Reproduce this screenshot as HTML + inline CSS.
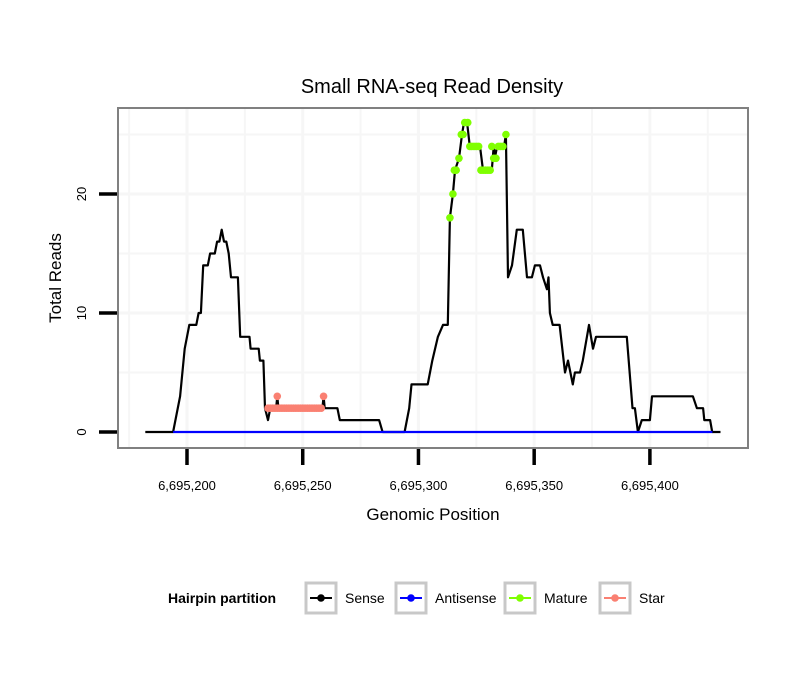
<!DOCTYPE html>
<html><head><meta charset="utf-8"><style>
html,body{margin:0;padding:0;background:#fff;}
svg{display:block;font-family:"Liberation Sans",sans-serif;}
</style></head><body>
<svg id="chart" width="810" height="690" viewBox="0 0 810 690" xmlns="http://www.w3.org/2000/svg">
<rect width="810" height="690" fill="#fff"/>
<text x="432" y="93" font-size="20" text-anchor="middle">Small RNA-seq Read Density</text>
<g id="plot"></g>
<text x="433" y="520" font-size="17" text-anchor="middle">Genomic Position</text>
<text transform="translate(61,278) rotate(-90)" font-size="17" text-anchor="middle">Total Reads</text>
<g id="legend">
<text x="168" y="603" font-size="14" font-weight="bold">Hairpin partition</text>
</g>
</svg>
<script>
const senseOff=[-18,-6,-3,-1,1,4,5,6,7,9,10,12,13,14,15,16,17,18,19,22,23,27,27.5,31,31.5,33,33.7,35,36,38.5,39,39.5,58.5,59,59.5,65,66,83,84.5,94,96,97,104,106,108.4,110.6,112.7,113.6,114.9,115.8,117.5,118.8,119.7,121,122.2,126.6,127.9,131.7,132.5,133,134,137,137.8,138.7,140.4,142.5,145.1,146.9,149,150.3,152.5,153.8,155.5,156.2,156.8,158,161,163.3,164.6,166.7,167.6,169.8,171,173.7,175.4,176.7,190,192.5,193.5,194.8,196.5,200,200.9,218.6,220.3,223,223.5,226,226.9,230.5];
const senseVal=[0,0,3,7,9,9,10,10,14,14,15,15,16,16,17,16,16,15,13,13,8,8,7,7,6,6,2,1,2,2,3,2,2,3,2,2,1,1,0,0,2,4,4,6,8,9,9,18,20,22,23,25,26,26,24,24,22,22,24,23,24,24,25,13,14,17,17,13,13,14,14,13,12,13,10,9,9,5,6,4,5,5,6,9,7,8,8,2,2,0,1,1,3,3,2,2,1,1,0,0];
const senseBase=6695200;
const antiPos=[6695194,6695427];
const antiVal=[0,0];
const maturePos=[6695313.6,6695314.9,6695315.5,6695316.3,6695317.5,6695318.5,6695319.3,6695320,6695321.3,6695322.2,6695323,6695324,6695325,6695326,6695327,6695328,6695329,6695330,6695331,6695331.7,6695332.5,6695333.5,6695334.5,6695335.5,6695336.5,6695337.8];
const matureVal=[18,20,22,22,23,25,25,26,26,24,24,24,24,24,22,22,22,22,22,24,23,23,24,24,24,25];
const starPos=[6695235,6695236,6695237,6695238,6695239,6695240,6695241,6695242,6695243,6695244,6695245,6695246,6695247,6695248,6695249,6695250,6695251,6695252,6695253,6695254,6695255,6695256,6695257,6695258];
const starVal=[2,2,2,2,2,2,2,2,2,2,2,2,2,2,2,2,2,2,2,2,2,2,2,2];
const starPeakPos=[6695239,6695259];
const starPeakVal=[3,3];
const xTicks=[6695200,6695250,6695300,6695350,6695400];
const xTickLabels=["6,695,200","6,695,250","6,695,300","6,695,350","6,695,400"];
const yTicks=[0,10,20];
const yTickLabels=["0","10","20"];
const legendLabels=["Sense","Antisense","Mature","Star"];
const legendColors=["#000000","#0000ff","#7fff00","#fa8072"];

const NS="http://www.w3.org/2000/svg";
function X(p){return 187+(p-6695200)*2.3145;}
function Y(v){return 432-v*11.9;}
function mk(tag,attrs,parent){const e=document.createElementNS(NS,tag);for(const k in attrs)e.setAttribute(k,attrs[k]);parent.appendChild(e);return e;}
const sensePos=senseOff.map(o=>senseBase+o);
const plot=document.getElementById('plot');
mk('rect',{x:118,y:108,width:630,height:340,fill:'#fff'},plot);
for(let p=6695175;p<=6695425;p+=25){const g=mk('line',{x1:X(p),x2:X(p),y1:109,y2:447,stroke:'#f6f6f6','stroke-width':p%50===0?3:2},plot);

}
for(let v=5;v<=25;v+=5){const g=mk('line',{x1:119,x2:747,y1:Y(v),y2:Y(v),stroke:'#f6f6f6','stroke-width':v%10===0?3:2},plot);

}
function line(ps,vs,color,name){const d=ps.map((p,i)=>(i?'L':'M')+X(p).toFixed(1)+','+Y(vs[i]).toFixed(1)).join('');
const e=mk('path',{d:d,fill:'none',stroke:color,'stroke-width':2.2,'stroke-linejoin':'round'},plot);

}
function dots(ps,vs,color,name){ps.forEach((p,i)=>{const c=mk('circle',{cx:X(p),cy:Y(vs[i]),r:3.8,fill:color},plot);

});}
line(sensePos,senseVal,'#000','sense-line');
line(antiPos,antiVal,'#0000ff','antisense-line');
line(starPos,starVal,'#fa8072','star-line');
dots(starPos,starVal,'#fa8072','star-point');
dots(starPeakPos,starPeakVal,'#fa8072','star-point');
dots(maturePos,matureVal,'#7fff00','mature-point');
mk('rect',{x:118,y:108,width:630,height:340,fill:'none',stroke:'#808080','stroke-width':2},plot);
xTicks.forEach((t,i)=>{const l=mk('line',{x1:X(t),x2:X(t),y1:449,y2:465,stroke:'#000','stroke-width':3.5},plot);


const tx=mk('text',{x:X(t),y:490,'font-size':13,'text-anchor':'middle'},plot);tx.textContent=xTickLabels[i];

});
yTicks.forEach((t,i)=>{const l=mk('line',{x1:99,x2:117,y1:Y(t),y2:Y(t),stroke:'#000','stroke-width':3.5},plot);


const tx=mk('text',{transform:`translate(86,${Y(t)}) rotate(-90)`,'font-size':13,'text-anchor':'middle'},plot);tx.textContent=yTickLabels[i];

});
const lg=document.getElementById('legend');
const keyX=[306,396,505,600];
legendLabels.forEach((lab,i)=>{const g=mk('g',{},lg);


const x=keyX[i];
mk('rect',{x:x,y:583,width:30,height:30,fill:'#fff',stroke:'#c8c8c8','stroke-width':3},g);
mk('line',{x1:x+4,x2:x+26,y1:598,y2:598,stroke:legendColors[i],'stroke-width':2},g);
mk('circle',{cx:x+15,cy:598,r:3.8,fill:legendColors[i]},g);
const t=mk('text',{x:x+39,y:603,'font-size':14},g);t.textContent=lab;});
</script>
</body></html>
